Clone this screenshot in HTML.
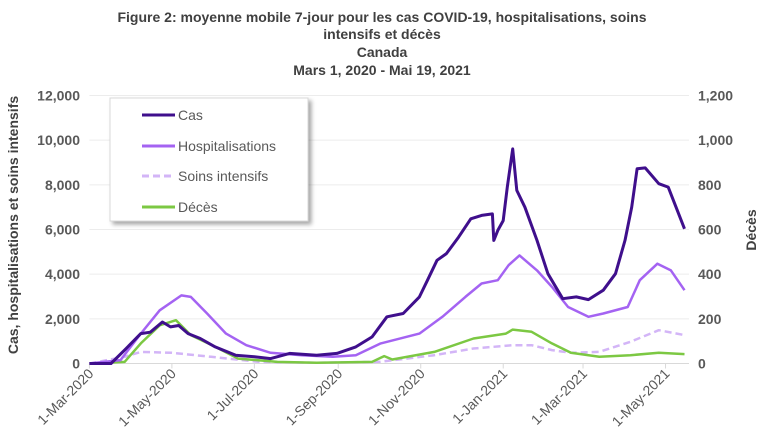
<!DOCTYPE html>
<html><head><meta charset="utf-8"><style>
body{margin:0;background:#fff;}
svg{display:block;font-family:"Liberation Sans",sans-serif;}
</style></head><body>
<svg width="770" height="444" viewBox="0 0 770 444">
<defs><filter id="sh" x="-10%" y="-10%" width="130%" height="130%"><feDropShadow dx="3" dy="3" stdDeviation="2" flood-color="#000" flood-opacity="0.35"/></filter></defs>
<g font-weight="bold" font-size="14" fill="#404040" text-anchor="middle">
<text x="382" y="22">Figure 2: moyenne mobile 7-jour pour les cas COVID-19, hospitalisations, soins</text>
<text x="382" y="39">intensifs et décès</text>
<text x="382" y="57">Canada</text>
<text x="382" y="75">Mars 1, 2020 - Mai 19, 2021</text>
</g>
<g id="grid"></g>
<g id="axes"></g>
<g id="series"></g>
<text transform="translate(18,225) rotate(-90)" text-anchor="middle" font-size="14" font-weight="bold" fill="#404040">Cas, hospitalisations et soins intensifs</text>
<text transform="translate(756,230) rotate(-90)" text-anchor="middle" font-size="14" font-weight="bold" fill="#404040">Décès</text>
<g>
<rect x="110" y="98" width="198" height="123" fill="#fff" stroke="#d9d9d9" filter="url(#sh)"/>
<g><line x1="142" y1="115" x2="175" y2="115" stroke="#3f0f8c" stroke-width="3"/><text x="178" y="120" font-size="14" fill="#595959">Cas</text></g>
<g><line x1="142" y1="146" x2="175" y2="146" stroke="#a463f2" stroke-width="3"/><text x="178" y="151" font-size="14" fill="#595959">Hospitalisations</text></g>
<g><line x1="142" y1="176" x2="175" y2="176" stroke="#d3b5f7" stroke-width="3" stroke-dasharray="7,4"/><text x="178" y="181" font-size="14" fill="#595959">Soins intensifs</text></g>
<g><line x1="142" y1="207" x2="175" y2="207" stroke="#7cc843" stroke-width="3"/><text x="178" y="212" font-size="14" fill="#595959">Décès</text></g>
</g>
</svg>
<script>
const casDays=[0,16,26,38,45,54,60,66,73,82,93,108,122,134,148,168,183,197,209,220,232,244,250,257,264,273,282,290,298,299,302,306,309,313,316,322,331,339,350,360,369,380,389,396,401,405,411,421,428,440];
const casValues=[0,0,600,1340,1400,1860,1640,1700,1340,1120,745,370,300,220,450,370,450,745,1190,2090,2240,2980,3730,4620,4920,5660,6480,6630,6700,5510,5960,6400,7900,9610,7750,7000,5510,4020,2900,2980,2860,3280,4020,5510,7000,8720,8760,8050,7900,6030];
const hospDays=[0,23,38,52,68,75,87,101,116,134,157,180,197,215,244,261,278,290,302,310,318,331,342,354,369,380,398,407,420,430,440];
const hospValues=[0,150,1340,2380,3050,2980,2240,1340,820,480,370,300,370,890,1340,2090,2980,3580,3730,4400,4840,4170,3430,2530,2090,2240,2530,3730,4470,4170,3280];
const icuDays=[0,26,38,61,90,125,168,215,255,284,313,327,342,356,377,400,421,440];
const icuValues=[0,300,520,480,300,75,30,75,370,670,820,820,600,480,520,970,1490,1270];
const decesDays=[0,26,38,52,64,75,93,110,139,168,209,218,224,255,284,308,313,327,342,356,377,400,421,440];
const decesValues=[0,7,90,171,194,127,75,22,7,3,7,33,18,52,112,134,152,142,90,48,30,37,48,42];
const leftTicks=[0,2000,4000,6000,8000,10000,12000];
const rightTicks=[0,200,400,600,800,1000,1200];
const xTickDays=[0,61,122,184,245,306,365,426];
const xTickLabels=["1-Mar-2020","1-May-2020","1-Jul-2020","1-Sep-2020","1-Nov-2020","1-Jan-2021","1-Mar-2021","1-May-2021"];
const NS="http://www.w3.org/2000/svg";
const X0=89.4,PXD=1.3524,Y0=363.5,YTOP=95.5;
const x=d=>X0+d*PXD;
const yL=v=>Y0-(v/12000)*(Y0-YTOP);
const yR=v=>Y0-(v/1200)*(Y0-YTOP);
function mk(tag,attrs,parent){const e=document.createElementNS(NS,tag);for(const k in attrs)e.setAttribute(k,attrs[k]);parent.appendChild(e);return e;}
const grid=document.getElementById('grid'),axes=document.getElementById('axes'),ser=document.getElementById('series');
leftTicks.forEach((t,i)=>{
  if(t>0){const g=mk('line',{x1:X0,x2:689,y1:yL(t),y2:yL(t),stroke:'#ececec','stroke-width':1},grid);
  
  }
  const l=mk('text',{x:80,y:yL(t)+5,'text-anchor':'end','font-size':14,'font-weight':'bold',fill:'#595959'},axes);l.textContent=t.toLocaleString('en-US');
  
  
  const r=mk('text',{x:698,y:yR(rightTicks[i])+5,'font-size':14,'font-weight':'bold',fill:'#595959'},axes);r.textContent=rightTicks[i].toLocaleString('en-US');
  
  
});
const ax=mk('line',{x1:X0,x2:689,y1:Y0,y2:Y0,stroke:'#d9d9d9','stroke-width':1},axes);


xTickDays.forEach((d,i)=>{
  const tk=mk('line',{x1:x(d),x2:x(d),y1:Y0,y2:Y0+5,stroke:'#d9d9d9'},axes);
  
  
  const t=mk('text',{x:0,y:0,'text-anchor':'end','font-size':14,fill:'#595959',transform:`translate(${x(d)+5},${Y0+11}) rotate(-45)`},axes);
  t.textContent=xTickLabels[i];
  
  
});
function line(days,vals,yf,color,name,dash,w){
  const pts=days.map((d,i)=>x(d).toFixed(1)+','+yf(vals[i]).toFixed(1)).join(' ');
  const p=mk('polyline',{points:pts,fill:'none',stroke:color,'stroke-width':w,'stroke-linejoin':'round'},ser);
  if(dash)p.setAttribute('stroke-dasharray',dash);
  
  
}
line(icuDays,icuValues,yL,'#d3b5f7','series-soins-intensifs','7,4',2.5);
line(decesDays,decesValues,yR,'#7cc843','series-deces',null,2.5);
line(hospDays,hospValues,yL,'#a463f2','series-hospitalisations',null,2.5);
line(casDays,casValues,yL,'#3f0f8c','series-cas',null,3);
</script>
</body></html>
